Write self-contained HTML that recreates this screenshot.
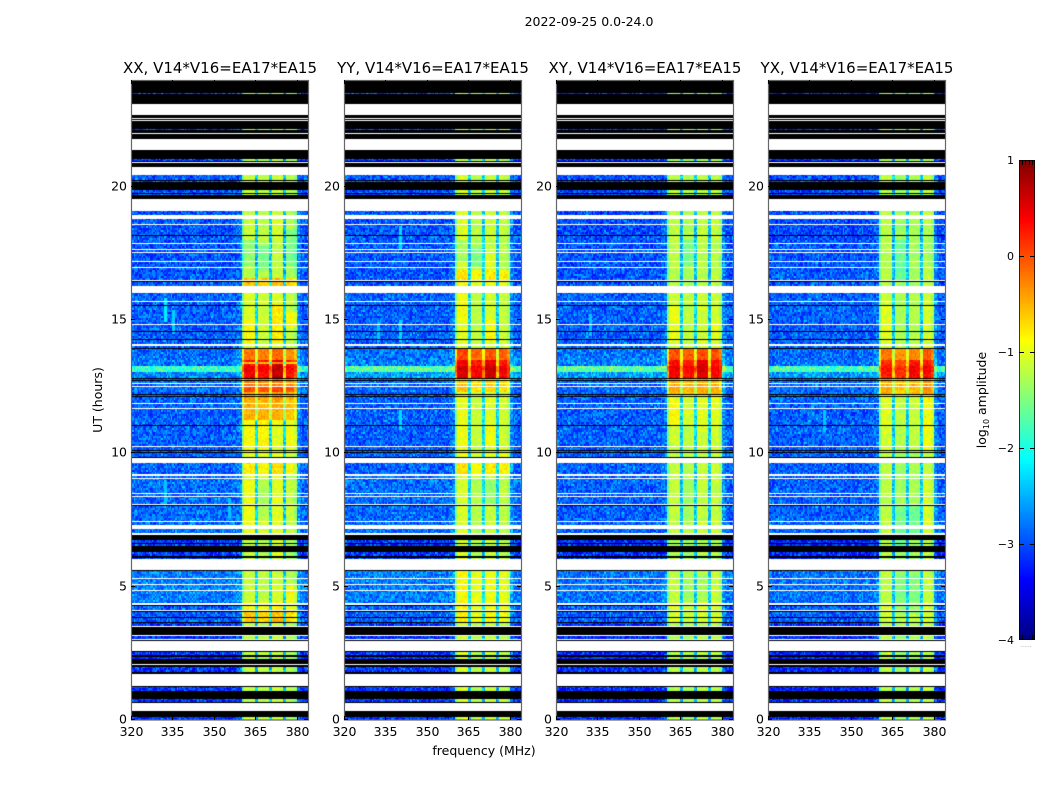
<!DOCTYPE html>
<html lang="en">
<head>
<meta charset="utf-8">
<title>2022-09-25 0.0-24.0</title>
<style>
html,body{margin:0;padding:0;background:#fff;}
#figure{position:relative;width:1050px;height:800px;overflow:hidden;background:#fff;font-family:"DejaVu Sans","Liberation Sans",sans-serif;}
#figure canvas{position:absolute;display:block;}
#overlay{position:absolute;left:0;top:0;}
#overlay text{font-family:"DejaVu Sans","Liberation Sans",sans-serif;fill:#000;}
</style>
</head>
<body>
<div id="figure">
<svg id="overlay" width="1050" height="800" viewBox="0 0 1050 800"></svg>
</div>
<script>
// ---- Chart data ----
const panelTitles = ['XX, V14*V16=EA17*EA15','YY, V14*V16=EA17*EA15','XY, V14*V16=EA17*EA15','YX, V14*V16=EA17*EA15'];
const panelNames = ['xx','yy','xy','yx'];
const utTicks = [0,5,10,15,20];
const freqTicks = [320,335,350,365,380];
const colorTicks = [-4,-3,-2,-1,0,1];
const colorTickLabels = ['\u22124','\u22123','\u22122','\u22121','0','1'];

// Passband weight of each 1 MHz channel, 320-383 MHz (0 = background level, 1 = passband level)
const channelWeight = [
0,0,0,0,0,0,0,0,0,0,0,0,0,0,0,0,
0,0,0,0,0,0,0,0,0,0,0,0,0,0,0,0,
0,0,0,0,0,0,.04,.08,.72,1,1,1,1,.34,1,1,
1,1,.34,1,1,1,1,.3,1,1,1,.9,.14,.03,0,0];

// Passband offsets for the four sub-bands, per polarisation
const subbandXX = [.05,0,.08,-.05];
const subbandYY = [.12,-.05,.05,0];
const subbandXY = [.02,-.05,.03,.03];
const subbandYX = [.05,-.1,-.05,.08];

// Time sections: [UT top, UT bottom, background log10 amp, passband log10 amp]
const sectionsXX = [
[24,20.5,-3.12,-1.3],[20.5,18,-2.97,-1.2],[18,16.55,-2.97,-1.28],[16.55,16.25,-2.97,-.65],
[16.25,13.95,-2.92,-1.12],[13.95,13.5,-2.87,-.25],[13.5,13.4,-2.82,.2],[13.4,13.34,-2.82,-.6],
[13.34,13.24,-2.82,.3],[13.24,13.05,-1.85,.42],[13.05,12.85,-2.72,.35],[12.85,12.5,-2.87,-.3],
[12.5,12.3,-2.87,-.05],[12.3,12,-2.92,-.45],[12,11.25,-2.92,-.55],[11.25,10.1,-2.92,-.95],
[10.1,9.64,-2.92,-1.05],[9.64,9.2,-2.92,-.85],[9.2,7,-2.87,-1.12],[7,5.6,-3.12,-1.25],
[5.6,4.4,-2.77,-1.2],[4.4,4.1,-2.92,-.95],[4.1,3.7,-2.92,-.65],[3.7,0,-3.12,-1.22]];
const sectionsYY = [
[24,20.5,-3.12,-1.25],[20.5,18,-2.97,-1.18],[18,16.9,-2.97,-1.25],[16.9,16.5,-2.97,-.85],
[16.5,16.25,-2.97,-1],[16.25,13.95,-2.92,-1.15],[13.95,13.5,-2.82,-.1],[13.5,13.24,-2.77,.3],
[13.24,13.05,-1.7,.45],[13.05,12.85,-2.62,.4],[12.85,12.3,-2.87,-.7],[12.3,10.1,-2.92,-1.1],
[10.1,9.64,-2.92,-1.1],[9.64,9.2,-2.92,-.85],[9.2,7,-2.87,-1.2],[7,5.6,-3.12,-1.2],
[5.6,4.4,-2.77,-1.02],[4.4,3.7,-2.92,-.95],[3.7,0,-3.12,-1.2]];
const sectionsXY = [
[24,20.5,-3.17,-1.3],[20.5,18,-3.02,-1.22],[18,16.25,-2.97,-1.25],[16.25,13.95,-2.92,-1.15],
[13.95,13.5,-2.82,-.05],[13.5,13.24,-2.77,.3],[13.24,13.05,-1.65,.42],[13.05,12.85,-2.62,.35],
[12.85,12.2,-2.87,-.5],[12.2,11,-2.92,-1.05],[11,10.1,-2.92,-1.15],[10.1,7,-2.92,-1.2],
[7,5.6,-3.17,-1.3],[5.6,4.4,-2.82,-1.2],[4.4,3.7,-2.92,-1.1],[3.7,0,-3.17,-1.25]];
const sectionsYX = [
[24,20.5,-3.22,-1.3],[20.5,18,-3.02,-1.25],[18,16.25,-2.97,-1.28],[16.25,13.95,-2.92,-1.2],
[13.95,13.5,-2.87,-.25],[13.5,13.24,-2.82,.1],[13.24,13.05,-1.8,.25],[13.05,12.85,-2.62,.2],
[12.85,12.2,-2.87,-.5],[12.2,11,-2.92,-1.1],[11,10.1,-2.92,-1.15],[10.1,7,-2.92,-1.25],
[7,5.6,-3.22,-1.3],[5.6,4.4,-2.82,-1.25],[4.4,3.7,-2.92,-1.15],[3.7,0,-3.22,-1.25]];

// Sub-band patches: [panel index, sub-band, UT top, UT bottom, log10 offset]
const passPatches = [
[0,0,15,14,.2],[0,2,15.6,14.2,.25],[0,3,15.3,14.7,.3],[0,1,11.5,10.2,.1],[0,2,11,10,-.15],
[0,3,11,10.2,.1],[0,3,5,4.4,.35],[0,1,9,7.5,-.15],[0,0,9,7,.12],[0,2,6.8,6,.1],[0,0,18,17,-.2],
[0,1,17.8,16.9,-.25],[0,3,18.4,17,-.2],[0,2,13.5,12.85,.2],
[1,0,18,17.2,-.2],[1,1,17.7,17,-.25],[1,2,17.5,16.9,.15],[1,0,16.2,15,.1],[1,2,15,14.2,.2],
[1,2,11,10.2,.1],[1,3,10,9.64,.15],[1,1,5.5,4.4,.05],[1,2,9,8,-.25],[1,2,13.5,12.85,.15],
[2,1,18,17,-.25],[2,0,15.5,14.2,.15],[2,0,12,11,.15],[2,3,15,14.2,.1],[2,1,9,7.5,-.1],
[2,2,5.5,4.4,-.15],[2,1,5.5,4.4,-.1],[2,2,13.5,12.85,.15],
[3,0,15.5,14.1,.12],[3,3,14,10,.1],[3,1,8,6.5,-.2],[3,2,8,7,-.3],[3,3,9,7,.1],[3,1,5.5,4,-.15],
[3,2,5.5,4,-.2],[3,1,18,16.5,-.25],[3,3,18.5,17,-.1],[3,2,13.5,12.85,.22]];

// Narrow interference streaks: [panel index, channel, UT top, UT bottom, log10 amp]
const rfiStreaks = [
[0,12,15.8,14.9,-2.2],[0,15,15.4,14.5,-2.35],[0,12,8.9,8.1,-2.4],[0,35,8.3,7.6,-2.4],
[1,20,18.5,17.6,-2.3],[1,20,15,14.2,-2.3],[1,20,11.6,10.9,-2.3],[1,12,14.9,14.2,-2.4],
[2,12,15.2,14.4,-2.4],[3,20,11.6,10.8,-2.4]];

// Flagged time ranges, [UT top, UT bottom]
const whiteFlags = [
[23.1,22.69],[22.58,22.54],[22.5,22.46],[22.01,21.98],[21.79,21.38],[20.93,20.89],[20.74,20.44],
[19.54,19.09],[18.94,18.79],[18.6,18.56],[17.89,17.85],[17.66,17.63],[17.55,17.51],[17.21,17.18],
[16.99,16.95],[16.5,16.46],[16.26,16.01],[15.71,15.68],[14.85,14.81],[14.1,14.04],[12.64,12.6],
[12.53,12.49],[11.89,11.85],[11.7,11.66],[10.28,10.24],[9.83,9.64],[9.23,9.15],[9.08,9.04],
[8.51,8.48],[8.4,8.36],[8.1,8.06],[7.46,7.43],[7.32,7.16],[7,6.94],[6.04,5.63],[5.31,5.28],
[5.1,5.06],[4.88,4.84],[4.38,4.31],[4.13,4.09],[3.54,3.51],[3.19,3.15],[3.05,3.03],[2.95,2.6],
[2.1,2.05],[1.73,1.29],[.65,.34]];
const blackFlags = [
[24,23.51],[23.48,23.1],[22.69,22.58],[22.54,22.5],[22.46,22.16],[22.13,22.01],[21.98,21.79],
[21.38,21.04],[20.96,20.93],[20.89,20.74],[20.25,20.21],[20.18,19.88],[19.76,19.73],[19.69,19.54],
[18.19,18.15],[16.46,16.43],[15.56,15.53],[14.59,14.55],[14.29,14.25],[13.95,13.91],[12.83,12.79],
[12.75,12.71],[12.23,12.19],[12.15,12.11],[11.06,11.03],[10.13,10.09],[10.05,10.01],[9.86,9.83],
[8.06,8.03],[6.94,6.75],[6.64,6.6],[6.53,6.3],[6.16,6.08],[5.63,5.59],[4.31,4.28],[4.09,4.05],
[3.87,3.84],[3.69,3.64],[3.48,3.19],[3.03,2.95],[2.6,2.56],[2.44,2.37],[2.29,2.1],[2.05,2],
[1.81,1.73],[1.29,1.25],[1.09,.79],[.68,.65],[.34,.1]];

// Estimated amplitude texture (log10 offsets) for the channel/time speckle
const speckle = [
-.12,.22,-.3,.05,.34,-.18,-.41,.14,.48,-.07,-.26,.29,.02,-.35,.18,.62,-.2,.09,-.44,.25,
-.1,.38,-.29,.01,.16,-.37,.44,-.15,.07,-.24,.31,-.05,.55,-.33,.12,-.19,.27,-.42,.2,-.02,
.36,-.28,.1,-.13,.42,-.38,.04,.23,-.22,.7,-.09,-.31,.17,.32,-.16,.06,-.4,.26,-.04,.13,-.25];

// ---- Geometry ----
const panelLeft = [131,344,556,768];
const panelWidth = 177;
const plotTop = 80, plotBottom = 720;
const freqMin = 320, freqMax = 384, utMax = 24, rowHours = 0.075;
const cbarX = 1019, cbarW = 16, cbarTop = 160, cbarBottom = 640, cMin = -4, cMax = 1;

function xScale(panel, mhz){ return panelLeft[panel] + (mhz - freqMin) / (freqMax - freqMin) * panelWidth; }
function yScale(ut){ return plotBottom - ut / utMax * (plotBottom - plotTop); }
function cScale(v){ return cbarBottom - (v - cMin) / (cMax - cMin) * (cbarBottom - cbarTop); }
function clip(v){ return Math.max(0, Math.min(1, v)); }
function jet(v){
  const t = clip((v - cMin) / (cMax - cMin));
  const r = clip(1.5 - Math.abs(4 * t - 3));
  const g = clip(1.5 - Math.abs(4 * t - 2));
  const b = clip(1.5 - Math.abs(4 * t - 1));
  return 'rgb(' + Math.round(r * 255) + ',' + Math.round(g * 255) + ',' + Math.round(b * 255) + ')';
}

const allSections = [sectionsXX, sectionsYY, sectionsXY, sectionsYX];
const allSubbands = [subbandXX, subbandYY, subbandXY, subbandYX];

// fine = half-channel column index, row = time row index
function cellValue(panel, fine, row){
  const channel = fine >> 1;
  const ut = (row + 0.5) * rowHours;
  const sec = allSections[panel].find(s => ut <= s[0] && ut > s[1]) || allSections[panel][0];
  let w = channelWeight[channel];
  // sub-band gaps leak more strongly while the passband is hot
  if (w > 0.2 && w < 0.6 && sec[3] > -0.6) w += 0.35;
  const band = Math.min(3, Math.max(0, Math.floor((channel - 40) / 5)));
  let sub = allSubbands[panel][band];
  for (const q of passPatches) {
    if (q[0] === panel && q[1] === band && ut <= q[2] && ut > q[3]) sub += q[4];
  }
  const tex = speckle[(fine * fine * 3 + row * row * 5 + fine * row * 7 + panel * 17) % speckle.length];
  let v = sec[2] + w * (sec[3] + sub - sec[2]) + 0.8 * tex * (1 - 0.6 * w);
  for (const s of rfiStreaks) {
    if (s[0] === panel && s[1] === channel && ut <= s[2] && ut > s[3]) v = Math.max(v, s[4]);
  }
  return v;
}

function svgEl(tag, attrs, text){
  const el = document.createElementNS('http://www.w3.org/2000/svg', tag);
  for (const k in attrs) el.setAttribute(k, attrs[k]);
  if (text !== undefined) el.textContent = text;
  return el;
}
const overlay = document.getElementById('overlay');
const figure = document.getElementById('figure');

function drawFlags(ctx, flags, color){
  ctx.fillStyle = color;
  for (const f of flags) {
    const y0 = Math.round(yScale(f[0]));
    const y1 = Math.max(y0 + 1, Math.round(yScale(f[1])));
    ctx.fillRect(0, y0 - plotTop, panelWidth, y1 - y0);
  }
}

panelTitles.forEach((title, p) => {
  const canvas = document.createElement('canvas');
  
  
  canvas.width = panelWidth;
  canvas.height = plotBottom - plotTop;
  canvas.style.left = panelLeft[p] + 'px';
  canvas.style.top = plotTop + 'px';
  const ctx = canvas.getContext('2d');
  const rows = Math.round(utMax / rowHours);
  for (let f = 0; f < channelWeight.length * 2; f++) {
    const x0 = Math.round(xScale(p, freqMin + f / 2)) - panelLeft[p];
    const x1 = Math.round(xScale(p, freqMin + (f + 1) / 2)) - panelLeft[p];
    for (let r = 0; r < rows; r++) {
      const y0 = Math.round(yScale((r + 1) * rowHours)) - plotTop;
      const y1 = Math.round(yScale(r * rowHours)) - plotTop;
      ctx.fillStyle = jet(cellValue(p, f, r));
      ctx.fillRect(x0, y0, x1 - x0, y1 - y0);
    }
  }
  drawFlags(ctx, blackFlags, '#000');
  drawFlags(ctx, whiteFlags, '#fff');
  figure.insertBefore(canvas, overlay);

  const frame = svgEl('rect', {x: panelLeft[p] + 0.5, y: plotTop + 0.5, width: panelWidth, height: plotBottom - plotTop - 0.5, fill: 'none', stroke: '#666', 'stroke-width': 1.2});
  
  
  overlay.appendChild(frame);

  const titleEl = svgEl('text', {x: panelLeft[p] + panelWidth / 2 + 0.5, y: 73, 'text-anchor': 'middle', 'font-size': 15}, title);
  
  
  overlay.appendChild(titleEl);

  utTicks.forEach(t => {
    const y = Math.round(yScale(t)) - 0.5;
    const tick = svgEl('path', {d: 'M' + panelLeft[p] + ' ' + y + 'h4M' + (panelLeft[p] + panelWidth) + ' ' + y + 'h-4', stroke: '#000', 'stroke-width': 1, fill: 'none'});
    
    
    overlay.appendChild(tick);
    const label = svgEl('text', {x: panelLeft[p] - 4, y: y + 4, 'text-anchor': 'end', 'font-size': 12.5}, String(t));
    
    
    overlay.appendChild(label);
  });
  freqTicks.forEach(f => {
    const x = Math.round(xScale(p, f)) + 0.5;
    const tick = svgEl('path', {d: 'M' + x + ' ' + plotBottom + 'v-4M' + x + ' ' + plotTop + 'v4', stroke: '#000', 'stroke-width': 1, fill: 'none'});
    
    
    overlay.appendChild(tick);
    const label = svgEl('text', {x: x, y: 736, 'text-anchor': 'middle', 'font-size': 12.5}, String(f));
    
    
    overlay.appendChild(label);
  });
});

// Colour bar
const cbarCanvas = document.createElement('canvas');


cbarCanvas.width = cbarW;
cbarCanvas.height = cbarBottom - cbarTop;
cbarCanvas.style.left = cbarX + 'px';
cbarCanvas.style.top = cbarTop + 'px';
const cbarCtx = cbarCanvas.getContext('2d');
for (let y = 0; y < cbarCanvas.height; y++) {
  const v = cMax - (y + 0.5) / cbarCanvas.height * (cMax - cMin);
  cbarCtx.fillStyle = jet(v);
  cbarCtx.fillRect(0, y, cbarW, 1);
}
figure.insertBefore(cbarCanvas, overlay);

const cbarFrame = svgEl('rect', {x: cbarX + 0.5, y: cbarTop + 0.5, width: cbarW - 1, height: cbarBottom - cbarTop - 1, fill: 'none', stroke: '#000', 'stroke-width': 1, 'stroke-opacity': 0.75});


overlay.appendChild(cbarFrame);

colorTicks.forEach((v, i) => {
  const y = Math.round(cScale(v));
  const label = svgEl('text', {x: cbarX - 5, y: y + 3.8, 'text-anchor': 'end', 'font-size': 11}, colorTickLabels[i]);
  
  
  overlay.appendChild(label);
  if (i > 0 && i < colorTicks.length - 1) {
    const tick = svgEl('path', {d: 'M' + cbarX + ' ' + (y + 0.5) + 'h5M' + (cbarX + cbarW) + ' ' + (y + 0.5) + 'h-5', stroke: '#000', 'stroke-width': 1, fill: 'none'});
    
    
    overlay.appendChild(tick);
  }
});
const cbarMinorX = [3,6,10,13];
cbarMinorX.forEach(dx => {
  const x = cbarX + dx + 0.5;
  const tick = svgEl('path', {d: 'M' + x + ' ' + cbarTop + 'v5M' + x + ' ' + cbarBottom + 'v-5', stroke: '#000', 'stroke-width': 1, fill: 'none'});
  
  
  overlay.appendChild(tick);
});
</script>
<script>
// Figure-level labels
(function(){
  const ns = 'http://www.w3.org/2000/svg';
  const o = document.getElementById('overlay');
  function t(x, y, size, str, rot){
    const el = document.createElementNS(ns, 'text');
    el.setAttribute('x', x);
    el.setAttribute('y', y);
    el.setAttribute('font-size', size);
    el.setAttribute('text-anchor', 'middle');
    if (rot) el.setAttribute('transform', 'rotate(-90 ' + x + ' ' + y + ')');
    el.textContent = str;
    o.appendChild(el);
    return el;
  }
  const sup = t(589, 26, 12.5, '2022-09-25 0.0-24.0');
  
  
  const xl = t(484, 755, 12.5, 'frequency (MHz)');
  
  
  const yl = t(102, 400, 12.5, 'UT (hours)', true);
  
  
  const cl = t(986, 400, 12.5, 'log', true);
  
  
  const sub = document.createElementNS(ns, 'tspan');
  sub.setAttribute('font-size', 8);
  sub.setAttribute('dy', 3);
  sub.textContent = '10';
  cl.appendChild(sub);
  const rest = document.createElementNS(ns, 'tspan');
  rest.setAttribute('dy', -3);
  rest.textContent = ' amplitude';
  cl.appendChild(rest);
  const dots = t(1026, 647, 6, '......');
  
  
  dots.style.fill = '#999';
})();
</script>
</body>
</html>
